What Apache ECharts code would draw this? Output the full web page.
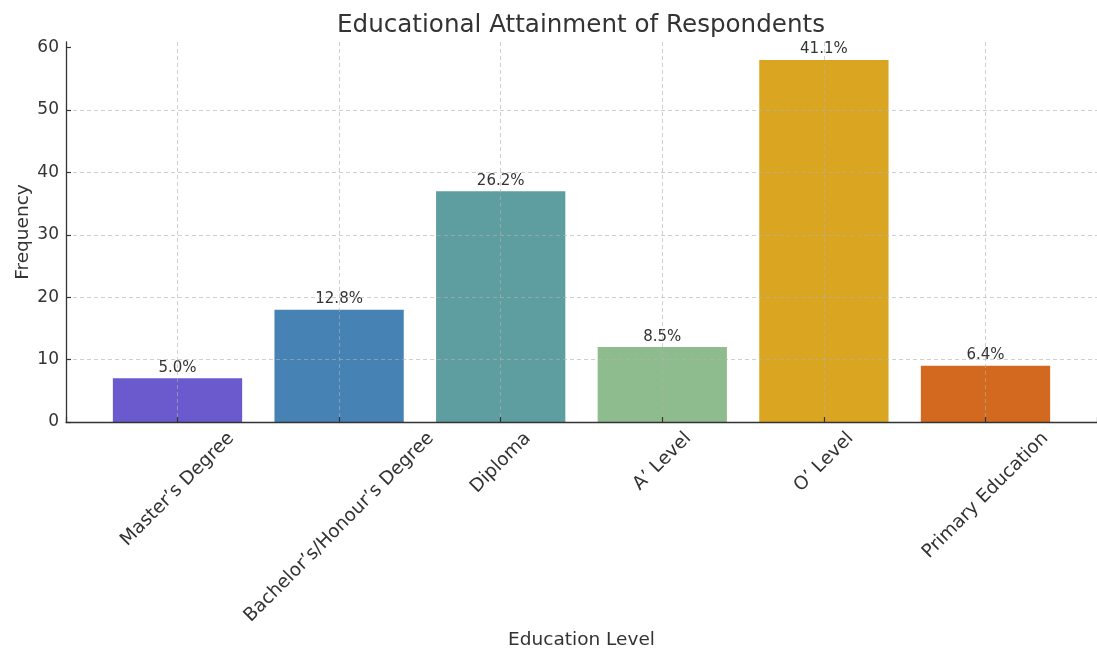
<!DOCTYPE html>
<html><head><meta charset="utf-8">
<script src="https://cdn.jsdelivr.net/npm/echarts@6/dist/echarts.min.js"></script>
<style>html,body{margin:0;padding:0;background:#fff}#c{width:1097px;height:653px}</style>
</head><body><div id="c"></div>
<script>
// ---- data ----
const categories = ["Master’s Degree", "Bachelor’s/Honour’s Degree", "Diploma", "A’ Level", "O’ Level", "Primary Education"];
const frequencies = [7, 18, 37, 12, 58, 9];
const percentLabels = ["5.0%", "12.8%", "26.2%", "8.5%", "41.1%", "6.4%"];
const barColors = ["#6A5ACD", "#4682B4", "#5F9EA0", "#8FBC8F", "#DAA520", "#D2691E"];
const yTicks = [0, 10, 20, 30, 40, 50, 60];

// ---- style ----
const FONT = '"DejaVu Sans", sans-serif';
const TXT = '#333333';
const YTICK_FS = 17;
const XTICK_FS = 18.5;
const ctx = document.createElement('canvas').getContext('2d');
ctx.font = XTICK_FS + 'px "DejaVu Sans"';
const rich = {};
categories.forEach((c, i) => {
  const w = ctx.measureText(c).width;
  const P = (w + XTICK_FS * 1.16) / 2;
  rich['c' + i] = { fontSize: XTICK_FS, fontFamily: FONT, color: TXT, padding: [P, P, 0, 0] };
});
const gridLine = { type: [4, 3], color: 'rgba(176,176,176,0.6)', width: 1 };

const chart = echarts.init(document.getElementById('c'), null, { renderer: 'canvas' });
chart.setOption({
  animation: false,
  backgroundColor: '#ffffff',
  title: {
    text: 'Educational Attainment of Respondents',
    left: 581, top: 13, textAlign: 'center', padding: 0,
    textStyle: { fontFamily: FONT, fontSize: 24.6, fontWeight: 'normal', color: TXT }
  },
  grid: { left: 66, right: 0, top: 42, bottom: 231, containLabel: false, outerBoundsMode: 'none' },
  xAxis: {
    type: 'value', min: -0.69, max: 5.69, minInterval: 1, maxInterval: 1,
    name: 'Education Level', nameLocation: 'middle', nameGap: 209, nameMoveOverlap: false,
    nameTextStyle: { fontFamily: FONT, fontSize: 18.5, color: TXT },
    axisLine: { show: true, onZero: false, lineStyle: { color: '#333', width: 1.3 } },
    axisTick: { show: true, inside: true, length: 5, lineStyle: { color: '#333', width: 1.2 } },
    axisLabel: {
      show: true, rotate: 45, align: 'center', verticalAlign: 'middle', margin: 6,
      formatter: (v) => {
        const i = Math.round(v);
        if (Math.abs(v - i) > 1e-6 || i < 0 || i >= categories.length) return '';
        return '{c' + i + '|' + categories[i] + '}';
      },
      rich: rich
    },
    splitLine: { show: true, showMinLine: false, showMaxLine: false, lineStyle: gridLine }
  },
  yAxis: {
    type: 'value', min: 0, max: 60.9, minInterval: 10, maxInterval: 10,
    name: 'Frequency', nameLocation: 'middle', nameGap: 33, nameRotate: 90, nameMoveOverlap: false,
    nameTextStyle: { fontFamily: FONT, fontSize: 18.5, color: TXT },
    axisLine: { show: true, onZero: false, lineStyle: { color: '#333', width: 1.3 } },
    axisTick: { show: true, inside: true, length: 5, customValues: yTicks, lineStyle: { color: '#333', width: 1.2 } },
    axisLabel: {
      show: true, margin: 7, showMaxLabel: false,
      fontFamily: FONT, fontSize: YTICK_FS, color: TXT,
      formatter: (v) => (Math.abs(v % 10) < 1e-6 ? String(v) : '')
    },
    splitLine: { show: true, showMinLine: false, showMaxLine: false, lineStyle: gridLine }
  },
  series: [{
    type: 'bar', z: -1, barWidth: '80%',
    data: frequencies.map((v, i) => ({ value: [i, v], itemStyle: { color: barColors[i] } })),
    label: {
      show: true, position: 'top', distance: 3,
      formatter: (p) => percentLabels[p.dataIndex],
      fontFamily: FONT, fontSize: 15, color: TXT
    }
  }]
});
</script>
</body></html>
